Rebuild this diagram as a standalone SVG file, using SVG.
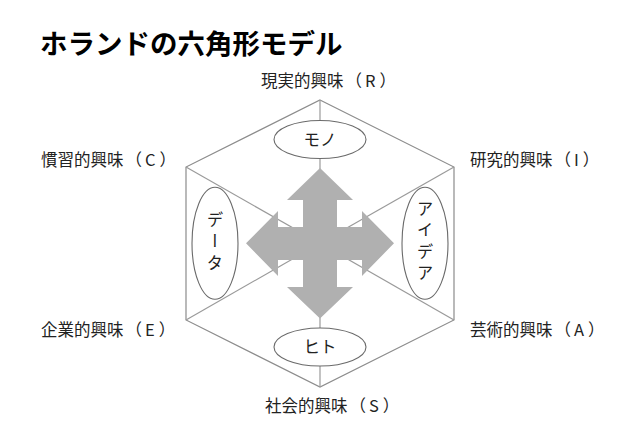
<svg xmlns="http://www.w3.org/2000/svg" width="640" height="427" viewBox="0 0 640 427">
<style>
text{font-family:"Noto Sans CJK JP","Noto Sans",sans-serif;fill:#222}
.title{font-size:27.5px;font-weight:700;fill:#000}
.lab{font-size:16.5px}
.in{font-size:16.5px;text-anchor:middle}
.hex{fill:none;stroke:#8c8c8c;stroke-width:1.2}
.spoke{stroke:#9a9a9a;stroke-width:1.2}
.ell{fill:#fff;stroke:#6a6a6a;stroke-width:1.1}
.arrow{fill:#b0b0b0}
.vt{writing-mode:vertical-rl;letter-spacing:5px;text-anchor:middle}
</style>
<rect width="640" height="427" fill="#fff"/>
<text class="title" x="40" y="54">ホランドの六角形モデル</text>
<g id="connectors">
<polygon class="hex" points="320,100 454,167 454,320 320,387 186,320 186,167"/>
<line class="spoke" x1="320" y1="100" x2="320" y2="243.3"/>
<line class="spoke" x1="320" y1="387" x2="320" y2="243.3"/>
<line class="spoke" x1="186" y1="167" x2="320" y2="243.3"/>
<line class="spoke" x1="454" y1="167" x2="320" y2="243.3"/>
<line class="spoke" x1="186" y1="320" x2="320" y2="243.3"/>
<line class="spoke" x1="454" y1="320" x2="320" y2="243.3"/>
</g>
<g id="arrow">
<polygon class="arrow" points="320,168 353,200 337,200 337,227 362,227 362,211 394,243.3 362,276 362,260 337,260 337,287 353,287 320,318.5 287,287 303,287 303,260 278,260 278,276 246,243.3 278,211 278,227 303,227 303,200 287,200"/>
</g>
<g id="node-mono">
<ellipse class="ell" cx="320" cy="139.5" rx="46" ry="19"/>
<text class="in" x="320" y="145.5">モノ</text>
</g>
<g id="node-hito">
<ellipse class="ell" cx="320" cy="347" rx="46" ry="19"/>
<text class="in" x="320" y="353">ヒト</text>
</g>
<g id="node-data">
<ellipse class="ell" cx="215" cy="243.3" rx="23" ry="56"/>
<text class="in vt" x="215" y="243.3">データ</text>
</g>
<g id="node-idea">
<ellipse class="ell" cx="425" cy="243.3" rx="23" ry="56"/>
<text class="in vt" x="425" y="243.3">アイデア</text>
</g>
<g id="labels">
<text class="lab" x="261" y="87">現実的興味<tspan dx="2">（</tspan><tspan dx="3">R</tspan><tspan dx="4">）</tspan></text>
<text class="lab" x="41" y="165.5">慣習的興味<tspan dx="2">（</tspan><tspan dx="3">C</tspan><tspan dx="4">）</tspan></text>
<text class="lab" x="470" y="165.5">研究的興味<tspan dx="2">（</tspan><tspan dx="3">I</tspan><tspan dx="4">）</tspan></text>
<text class="lab" x="41" y="336">企業的興味<tspan dx="2">（</tspan><tspan dx="3">E</tspan><tspan dx="4">）</tspan></text>
<text class="lab" x="470" y="336">芸術的興味<tspan dx="2">（</tspan><tspan dx="3">A</tspan><tspan dx="4">）</tspan></text>
<text class="lab" x="265" y="412">社会的興味<tspan dx="2">（</tspan><tspan dx="3">S</tspan><tspan dx="4">）</tspan></text>
</g>
</svg>
